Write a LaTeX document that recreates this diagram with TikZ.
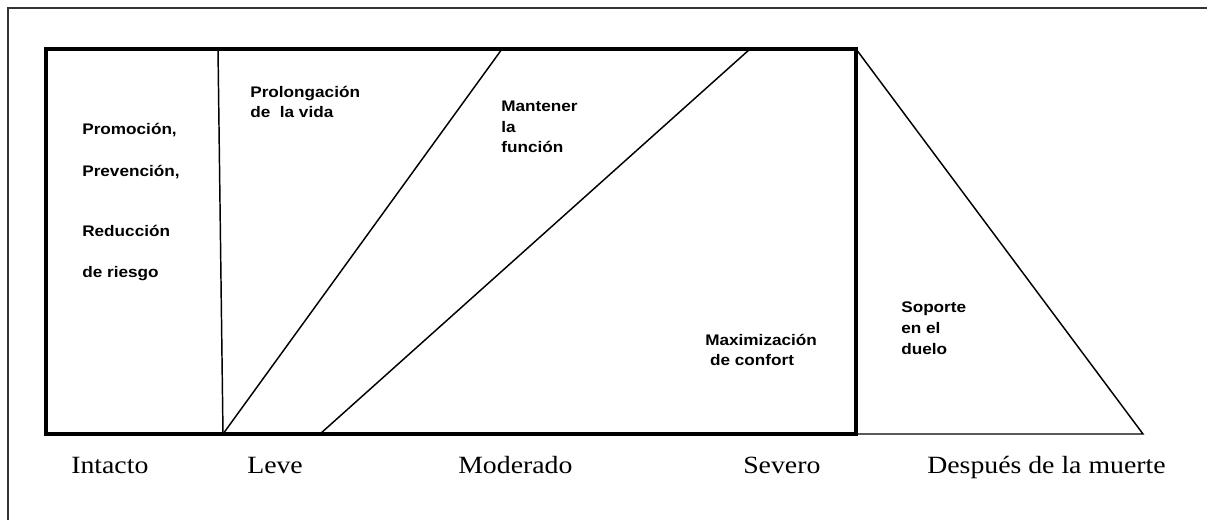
\documentclass[tikz,border=0pt]{standalone}
\usepackage{fontspec}
\setmainfont{Liberation Serif}
\newfontfamily\arialb{Liberation Sans}[BoldFont={* Bold}]
\begin{document}
\begin{tikzpicture}[x=0.75pt,y=-0.75pt,
  lbl/.style={font={\arialb\bfseries\fontsize{11.5}{15.4}\selectfont}, inner sep=0pt, anchor=base west, align=left, xscale=1.12, transform shape},
  axis/.style={font={\fontsize{18.6}{22}\selectfont}, inner sep=0pt, anchor=base west, xscale=1.12, transform shape},
  frame/.style={draw=black!80, line width=1.6pt},
  box/.style={draw=black, line width=2.3pt},
  thin/.style={draw=black, line width=1.1pt}]
\useasboundingbox (0,0) rectangle (1207,520);
% outer frame (only left and top edges visible)
\coordinate (fa) at (8,521);
\coordinate (fb) at (8,8);
\coordinate (fc) at (1208,8);
\draw[frame] (fa) -- (fb) -- (fc);
% main box
\coordinate (TL) at (46,49);
\coordinate (TR) at (856,49);
\coordinate (BR) at (856,434);
\coordinate (BL) at (46,434);
\coordinate (v1t) at (218,49);
\coordinate (v1b) at (223,434);
\coordinate (d1t) at (502,49);
\coordinate (d2b) at (320,434);
\coordinate (d2t) at (750,49);
\coordinate (tri) at (1143,434);
\draw[thin] (v1t) -- (v1b);
\draw[thin] (v1b) -- (d1t);
\draw[thin] (d2b) -- (d2t);
\draw[thin] (TR) -- (tri) -- (BR);
\draw[box, line join=miter] (TL) -- (TR) -- (BR) -- (BL) -- cycle;
% labels inside (base = baseline of the last line)
\node[lbl] (p1) at (82,135) {Promoción,};
\node[lbl] (p2) at (82,177) {Prevención,};
\node[lbl] (p3) at (82,237) {Reducción};
\node[lbl] (p4) at (82,278) {de riesgo};
\node[lbl] (pv) at (250,118) {Prolongación\\de\ \ la vida};
\node[lbl] (mf) at (501,153) {Mantener\\la\\función};
\node[lbl] (mc) at (705,366) {Maximización\\\ de confort};
\node[lbl] (sd) at (901,354) {Soporte\\en el\\duelo};
% axis labels
\node[axis] (a1) at (71,473) {Intacto};
\node[axis] (a2) at (247,473) {Leve};
\node[axis] (a3) at (458,473) {Moderado};
\node[axis] (a4) at (743,473) {Severo};
\node[axis] (a5) at (927,473) {Después de la muerte};
\end{tikzpicture}
\end{document}
